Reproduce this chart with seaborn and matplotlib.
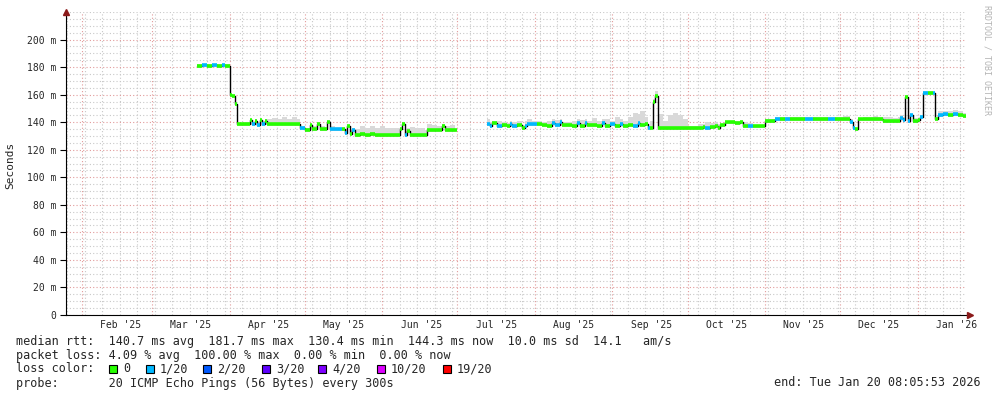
import numpy as np
import pandas as pd
import matplotlib
matplotlib.use("Agg")
import matplotlib.pyplot as plt
import matplotlib.dates as mdates
from matplotlib.ticker import MultipleLocator
from matplotlib.patches import Rectangle
import seaborn as sns

# median rtt (ms), top of the smoke (ms) and loss class per sample
dates = [
    "2025-03-19", "2025-03-21", "2025-03-23", "2025-03-25", "2025-03-27", "2025-03-29", "2025-03-30",
    "2025-04-01", "2025-04-02", "2025-04-03", "2025-04-04", "2025-04-07", "2025-04-09", "2025-04-10",
    "2025-04-11", "2025-04-12", "2025-04-13", "2025-04-14", "2025-04-15", "2025-04-16", "2025-04-18",
    "2025-04-20", "2025-04-22", "2025-04-24", "2025-04-26", "2025-04-28", "2025-04-29", "2025-05-01",
    "2025-05-03", "2025-05-04", "2025-05-06", "2025-05-07", "2025-05-09", "2025-05-10", "2025-05-11",
    "2025-05-13", "2025-05-16", "2025-05-17", "2025-05-18", "2025-05-19", "2025-05-20", "2025-05-21",
    "2025-05-23", "2025-05-25", "2025-05-27", "2025-05-29", "2025-05-31", "2025-06-02", "2025-06-04",
    "2025-06-06", "2025-06-08", "2025-06-09", "2025-06-10", "2025-06-11", "2025-06-12", "2025-06-14",
    "2025-06-16", "2025-06-18", "2025-06-19", "2025-06-21", "2025-06-23", "2025-06-25", "2025-06-26",
    "2025-06-28", "2025-06-30", "2025-07-01",
    "2025-07-13", "2025-07-14", "2025-07-15", "2025-07-17", "2025-07-19", "2025-07-21", "2025-07-22",
    "2025-07-23", "2025-07-25", "2025-07-27", "2025-07-28", "2025-07-29", "2025-07-31", "2025-08-02",
    "2025-08-04", "2025-08-06", "2025-08-08", "2025-08-09", "2025-08-11", "2025-08-12", "2025-08-14",
    "2025-08-16", "2025-08-18", "2025-08-19", "2025-08-21", "2025-08-22", "2025-08-24", "2025-08-26",
    "2025-08-28", "2025-08-29", "2025-08-31", "2025-09-02", "2025-09-04", "2025-09-05", "2025-09-07",
    "2025-09-09", "2025-09-11", "2025-09-12", "2025-09-14", "2025-09-15", "2025-09-16", "2025-09-17",
    "2025-09-18", "2025-09-19", "2025-09-21", "2025-09-23", "2025-09-25", "2025-09-27", "2025-09-29",
    "2025-10-01", "2025-10-03", "2025-10-05", "2025-10-07", "2025-10-08", "2025-10-10", "2025-10-12",
    "2025-10-13", "2025-10-14", "2025-10-16", "2025-10-18", "2025-10-20", "2025-10-22", "2025-10-23",
    "2025-10-25", "2025-10-27", "2025-10-29", "2025-10-31", "2025-11-01", "2025-11-03", "2025-11-05",
    "2025-11-07", "2025-11-09", "2025-11-11", "2025-11-14", "2025-11-17", "2025-11-20", "2025-11-23",
    "2025-11-26", "2025-11-29", "2025-12-02", "2025-12-05", "2025-12-06", "2025-12-07", "2025-12-08",
    "2025-12-10", "2025-12-12", "2025-12-14", "2025-12-16", "2025-12-18", "2025-12-20", "2025-12-22",
    "2025-12-24", "2025-12-25", "2025-12-26", "2025-12-27", "2025-12-28", "2025-12-29", "2025-12-30",
    "2026-01-01", "2026-01-02", "2026-01-03", "2026-01-05", "2026-01-07", "2026-01-08", "2026-01-09",
    "2026-01-11", "2026-01-13", "2026-01-15", "2026-01-17", "2026-01-19", "2026-01-20 08:05",
]
median_ms = [
    181.0, 181.2, 181.0, 181.5, 181.0, 181.3, 181.0,
    160.0, 159.0, 153.0, 139.0, 139.0, 141.5, 138.5,
    141.0, 138.0, 141.5, 139.0, 140.5, 139.0, 138.5,
    138.5, 138.5, 138.5, 138.5, 138.5, 135.5, 134.5,
    138.0, 135.0, 139.0, 135.0, 135.0, 140.0, 135.0,
    135.0, 135.0, 132.0, 137.0, 131.5, 134.5, 131.0,
    131.5, 131.0, 131.5, 131.0, 131.0, 131.0, 131.0,
    131.0, 135.0, 139.0, 131.0, 133.5, 131.0, 131.0,
    131.0, 131.0, 134.5, 134.5, 134.5, 137.5, 134.5,
    134.5, 134.5, np.nan,
    139.0, 137.0, 139.5, 137.5, 138.0, 137.5, 139.0,
    137.5, 138.0, 136.0, 137.5, 139.0, 138.5, 139.0,
    138.0, 137.5, 139.5, 138.0, 140.0, 138.0, 138.0,
    137.5, 139.5, 137.5, 139.5, 138.0, 138.0, 137.5,
    139.5, 137.5, 138.5, 137.5, 139.0, 137.5, 138.0,
    137.5, 139.5, 138.0, 138.5, 136.0, 136.0, 155.0,
    159.0, 136.0, 136.0, 136.0, 136.0, 136.0, 136.0,
    136.0, 136.0, 136.0, 136.5, 136.0, 136.5, 137.0,
    136.0, 138.0, 140.0, 140.0, 139.5, 140.0, 137.5,
    137.0, 137.0, 137.0, 137.0, 141.0, 141.0, 142.0,
    142.5, 142.0, 142.0, 142.0, 142.0, 142.0, 142.0,
    142.0, 142.0, 142.0, 140.0, 136.0, 135.0, 142.0,
    142.0, 142.0, 142.0, 142.0, 141.0, 141.0, 141.0,
    141.0, 143.0, 141.5, 158.0, 141.0, 145.0, 141.0,
    141.5, 144.0, 161.0, 161.0, 161.0, 142.0, 145.5,
    146.0, 145.5, 146.0, 145.0, 144.3, 144.3,
]
smoke_top_ms = [
    182.0, 182.0, 182.0, 182.5, 182.0, 182.0, 182.0,
    160.5, 159.5, 153.5, 139.5, 140.0, 142.0, 140.0,
    142.0, 140.0, 142.0, 141.0, 142.0, 142.0, 143.0,
    142.0, 143.5, 142.5, 144.0, 142.0, 137.0, 136.0,
    139.0, 137.0, 140.0, 137.0, 136.5, 140.5, 137.0,
    136.0, 136.0, 134.0, 138.0, 135.0, 136.0, 135.0,
    137.0, 136.0, 137.5, 136.0, 137.0, 136.0, 135.5,
    136.0, 136.0, 140.0, 135.0, 136.0, 136.5, 136.0,
    135.5, 134.0, 139.0, 138.0, 137.5, 138.5, 137.0,
    138.0, 137.0, np.nan,
    142.0, 140.0, 141.0, 140.5, 140.0, 139.5, 140.5,
    140.0, 140.5, 138.0, 141.0, 142.0, 141.0, 140.5,
    140.0, 140.5, 142.0, 141.5, 142.0, 140.0, 140.0,
    141.0, 142.0, 141.5, 142.0, 141.0, 143.0, 141.0,
    142.0, 142.0, 141.0, 143.5, 142.0, 141.0, 144.0,
    147.0, 146.0, 148.0, 144.0, 137.0, 141.0, 157.0,
    163.0, 146.0, 141.0, 145.0, 146.5, 145.5, 142.0,
    137.0, 137.0, 139.0, 139.0, 140.0, 139.5, 140.0,
    139.0, 139.0, 141.0, 141.0, 140.5, 141.0, 140.0,
    139.5, 138.0, 138.0, 138.0, 142.0, 142.5, 143.5,
    143.5, 143.5, 143.5, 144.0, 143.5, 144.0, 143.5,
    144.0, 144.0, 144.5, 142.0, 137.0, 136.0, 143.0,
    144.0, 144.0, 144.5, 144.0, 144.0, 143.5, 143.0,
    144.0, 145.0, 144.0, 159.0, 143.0, 146.0, 143.0,
    142.5, 145.0, 162.5, 163.0, 162.0, 143.0, 148.0,
    148.0, 148.0, 148.5, 148.0, 147.0, 147.0,
]
loss_class = [
    0, 1, 0, 1, 0, 1, 0,
    0, 0, 0, 0, 0, 0, 1,
    0, 1, 0, 1, 0, 0, 0,
    0, 0, 0, 0, 0, 1, 0,
    0, 0, 0, 0, 0, 0, 1,
    1, 0, 1, 0, 0, 1, 0,
    0, 0, 0, 0, 0, 0, 0,
    0, 0, 0, 1, 0, 0, 0,
    0, 0, 0, 0, 0, 0, 0,
    0, 0, 0,
    1, 1, 0, 1, 0, 0, 1,
    1, 0, 0, 1, 1, 1, 0,
    0, 0, 1, 1, 1, 0, 0,
    0, 1, 0, 1, 0, 0, 0,
    1, 0, 1, 0, 1, 0, 0,
    1, 1, 0, 0, 1, 0, 0,
    0, 0, 0, 0, 0, 0, 0,
    0, 0, 0, 0, 1, 0, 0,
    0, 0, 0, 0, 0, 0, 0,
    1, 0, 0, 0, 0, 0, 1,
    0, 1, 0, 0, 1, 0, 0,
    1, 0, 0, 1, 1, 0, 0,
    0, 0, 0, 0, 0, 0, 0,
    0, 1, 1, 0, 1, 1, 0,
    0, 1, 1, 0, 1, 0, 1,
    1, 0, 1, 0, 0, 0,
]

loss_labels = ["0", "1/20", "2/20", "3/20", "4/20", "10/20", "19/20"]
loss_colors = ["#26ff00", "#00b8ff", "#0059ff", "#5e00ff", "#7e00ff", "#dd00ff", "#ff0000"]

y_ticks = [0, 20, 40, 60, 80, 100, 120, 140, 160, 180, 200]
y_tick_labels = ["0", "20 m", "40 m", "60 m", "80 m", "100 m", "120 m", "140 m", "160 m", "180 m", "200 m"]
month_label_dates = ["2025-02-16 12:00", "2025-03-16 12:00", "2025-04-16 12:00", "2025-05-16 12:00",
                     "2025-06-16 12:00", "2025-07-16 12:00", "2025-08-16 12:00", "2025-09-16 12:00",
                     "2025-10-16 12:00", "2025-11-16 12:00", "2025-12-16 12:00", "2026-01-16 12:00"]
month_labels = ["Feb '25", "Mar '25", "Apr '25", "May '25", "Jun '25", "Jul '25", "Aug '25",
                "Sep '25", "Oct '25", "Nov '25", "Dec '25", "Jan '26"]

df = pd.DataFrame({"date": pd.to_datetime(dates, format="mixed"), "median": median_ms,
                   "top": smoke_top_ms, "loss": loss_class})
df["seg"] = df["median"].isna().cumsum()

sns.set_theme(style="white")
plt.rcParams["font.family"] = ["DejaVu Sans Mono"]

W, H = 997, 397
fig = plt.figure(figsize=(W / 100, H / 100), dpi=100)
fig.patch.set_facecolor("white")
ax = fig.add_axes([66 / W, 1 - 315 / H, 900 / W, 303 / H])
ax.set_facecolor("white")

# smoke
ax.fill_between(df["date"], df["median"], df["top"], step="post", color="#d9d9d9", lw=0, zorder=2)

# median line (black), then loss coloured bands
valid = df.dropna()
sns.lineplot(data=valid, x="date", y="median", units="seg", estimator=None,
             drawstyle="steps-post", color="black", lw=1.0, ax=ax, zorder=3)
nxt = df["date"].shift(-1)
ok = df["median"].notna() & nxt.notna()
ax.hlines(df.loc[ok, "median"], df.loc[ok, "date"], nxt[ok],
          colors=[loss_colors[int(c)] for c in df.loc[ok, "loss"]], lw=2.6, zorder=4)

ax.set_xlim(pd.Timestamp("2025-01-25 12:00"), pd.Timestamp("2026-01-20 08:05"))
ax.set_ylim(0, 220)
ax.set_xlabel("")
ax.set_ylabel("")

ax.xaxis.set_major_locator(mdates.MonthLocator())
ax.xaxis.set_minor_locator(mdates.WeekdayLocator(byweekday=mdates.SU))
ax.set_xticklabels([])
ax.set_yticks(y_ticks)
ax.set_yticklabels(y_tick_labels)
ax.yaxis.set_minor_locator(MultipleLocator(5))
ax.tick_params(axis="y", which="major", length=4, width=0.8, color="black", labelsize=7, pad=3, left=True)
ax.tick_params(axis="x", which="both", length=0)
ax.tick_params(axis="y", which="minor", length=0)

dots = (0, (1, 2))
ax.grid(which="minor", color="#c8c8c8", ls=dots, lw=0.8)
ax.grid(which="major", color="#e29a9a", ls=dots, lw=0.8)
ax.set_axisbelow(True)

for s in ["top", "right"]:
    ax.spines[s].set_visible(False)
for s in ["left", "bottom"]:
    ax.spines[s].set_color("black")
    ax.spines[s].set_linewidth(0.8)
    ax.spines[s].set_zorder(5)

# axis arrows
ax.plot([0], [1.0], marker="^", color="#8b1a1a", ms=4, transform=ax.transAxes, clip_on=False, zorder=6)
ax.plot([1.004], [0], marker=">", color="#8b1a1a", ms=4, transform=ax.transAxes, clip_on=False, zorder=6)

for d, lab in zip(month_label_dates, month_labels):
    ax.text(pd.Timestamp(d), -10 / 303, lab, transform=ax.get_xaxis_transform(),
            ha="center", va="center", fontsize=7)

fig.text(10 / W, 1 - 165 / H, "Seconds", rotation=90, ha="center", va="center", fontsize=8)
fig.text(987 / W, 1 - 5 / H, "RRDTOOL / TOBI OETIKER", rotation=270, ha="center", va="top",
         fontsize=6, color="#b4b4b4")

fs = 8.5
fig.text(16 / W, 1 - 341 / H,
         "median rtt:  140.7 ms avg  181.7 ms max  130.4 ms min  144.3 ms now  10.0 ms sd  14.1   am/s",
         ha="left", va="center", fontsize=fs)
fig.text(16 / W, 1 - 355 / H, "packet loss: 4.09 % avg  100.00 % max  0.00 % min  0.00 % now",
         ha="left", va="center", fontsize=fs)
fig.text(16 / W, 1 - 369 / H, "loss color:", ha="left", va="center", fontsize=fs)
sq_x = [109, 146, 203, 262, 318, 377, 443]
for x, col, lab in zip(sq_x, loss_colors, loss_labels):
    fig.add_artist(Rectangle((x / W, 1 - 373 / H), 8 / W, 8 / H, transform=fig.transFigure,
                             facecolor=col, edgecolor="black", lw=0.8))
    fig.text((x + 14) / W, 1 - 369 / H, lab, ha="left", va="center", fontsize=fs)
fig.text(16 / W, 1 - 383 / H, "probe:       20 ICMP Echo Pings (56 Bytes) every 300s",
         ha="left", va="center", fontsize=fs)
fig.text(981 / W, 1 - 383 / H, "end: Tue Jan 20 08:05:53 2026", ha="right", va="center", fontsize=fs)

fig.savefig("out.png", dpi=100, facecolor="white")
